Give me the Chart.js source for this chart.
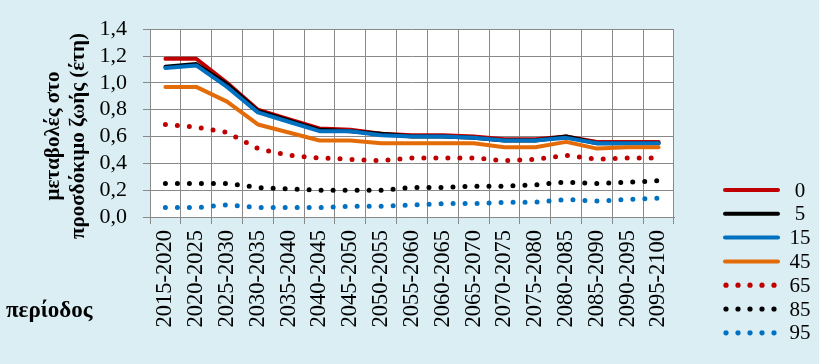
<!DOCTYPE html>
<html>
<head>
<meta charset="utf-8">
<script src="https://cdn.jsdelivr.net/npm/chart.js@4.4.1/dist/chart.umd.min.js"></script>
<style>
  html, body { margin: 0; padding: 0; background: #DAEEF3; }
  #wrap { width: 819px; height: 364px; }
</style>
</head>
<body>
<div id="wrap"><canvas id="c" width="819" height="364"></canvas></div>
<script>
const periods = ['2015-2020', '2020-2025', '2025-2030', '2030-2035', '2035-2040', '2040-2045',
    '2045-2050', '2050-2055', '2055-2060', '2060-2065', '2065-2070', '2070-2075',
    '2075-2080', '2080-2085', '2085-2090', '2090-2095', '2095-2100'];

const age0  = [1.18, 1.18, 1.00, 0.80, 0.73, 0.66, 0.65, 0.62, 0.61, 0.61, 0.60, 0.58, 0.58, 0.60, 0.56, 0.56, 0.56];
const age5  = [1.12, 1.14, 0.99, 0.79, 0.72, 0.65, 0.64, 0.62, 0.60, 0.60, 0.59, 0.57, 0.57, 0.60, 0.55, 0.55, 0.55];
const age15 = [1.11, 1.13, 0.97, 0.78, 0.71, 0.64, 0.64, 0.61, 0.60, 0.60, 0.59, 0.57, 0.57, 0.59, 0.55, 0.55, 0.55];
const age45 = [0.97, 0.97, 0.86, 0.69, 0.63, 0.57, 0.57, 0.55, 0.55, 0.55, 0.55, 0.52, 0.52, 0.56, 0.51, 0.52, 0.52];
const age65 = [0.69, 0.67, 0.63, 0.51, 0.46, 0.44, 0.43, 0.42, 0.44, 0.44, 0.44, 0.42, 0.43, 0.46, 0.43, 0.44, 0.44];
const age85 = [0.25, 0.25, 0.25, 0.22, 0.21, 0.20, 0.20, 0.20, 0.22, 0.22, 0.23, 0.23, 0.24, 0.26, 0.25, 0.26, 0.27];
const age95 = [0.07, 0.07, 0.09, 0.07, 0.07, 0.07, 0.08, 0.08, 0.09, 0.10, 0.10, 0.11, 0.11, 0.13, 0.12, 0.13, 0.14];

const seriesNames = ['0', '5', '15', '45', '65', '85', '95'];
const yTicks = [0, 0.2, 0.4, 0.6, 0.8, 1.0, 1.2, 1.4];

const yTitle = ['μεταβολές στο', 'προσδόκιμο ζωής (έτη)'];
const xTitle = 'περίοδος';

const serif = "'Liberation Serif', 'Times New Roman', serif";
const colors = ['#C00000', '#000000', '#0070C0', '#E36C09', '#C00000', '#000000', '#0070C0'];
const dotted = [false, false, false, false, true, true, true];
const values = [age0, age5, age15, age45, age65, age85, age95];

const datasets = values.map((v, i) => ({
    label: seriesNames[i],
    data: v,
    borderColor: colors[i],
    backgroundColor: colors[i],
    borderWidth: dotted[i] ? 5 : 4,
    borderDash: dotted[i] ? [0, 12] : [],
    borderCapStyle: 'round',
    borderJoinStyle: 'round',
    pointRadius: 0,
    tension: 0,
    fill: false,
    order: values.length - i
}));

// background, titles and legend
const decor = {
    id: 'decor',
    beforeDraw(chart) {
        const ctx = chart.ctx;
        const a = chart.chartArea;
        ctx.save();
        ctx.fillStyle = '#DAEEF3';
        ctx.fillRect(0, 0, chart.width, chart.height);
        ctx.fillStyle = '#FFFFFF';
        ctx.fillRect(a.left, a.top, a.right - a.left, a.bottom - a.top);
        ctx.restore();
    },
    afterDraw(chart) {
        const ctx = chart.ctx;
        ctx.save();
        ctx.fillStyle = '#000';
        ctx.font = 'bold 21px ' + serif;
        ctx.textAlign = 'center';
        ctx.textBaseline = 'middle';
        const xs = [54, 79];
        yTitle.forEach((t, i) => {
            ctx.save();
            ctx.translate(xs[i], 136);
            ctx.rotate(-Math.PI / 2);
            ctx.fillText(t, 0, 0);
            ctx.restore();
        });
        ctx.font = 'bold 23px ' + serif;
        ctx.textAlign = 'left';
        ctx.fillText(xTitle, 6, 311);

        // legend
        ctx.font = '21px ' + serif;
        ctx.textAlign = 'center';
        chart.data.datasets.forEach((ds, i) => {
            const y = 190 + i * 23.8;
            ctx.strokeStyle = ds.borderColor;
            ctx.fillStyle = ds.borderColor;
            if (dotted[i]) {
                for (let k = 0; k < 5; k++) {
                    ctx.beginPath();
                    ctx.arc(726 + k * 12, y, 2.6, 0, Math.PI * 2);
                    ctx.fill();
                }
            } else {
                ctx.lineWidth = 4;
                ctx.lineCap = 'round';
                ctx.beginPath();
                ctx.moveTo(725, y);
                ctx.lineTo(778, y);
                ctx.stroke();
            }
            ctx.fillStyle = '#000';
            ctx.fillText(ds.label, 800, y + 1);
        });
        ctx.restore();
    }
};

new Chart(document.getElementById('c').getContext('2d'), {
    type: 'line',
    data: { labels: periods, datasets: datasets },
    options: {
        responsive: false,
        animation: false,
        devicePixelRatio: 1,
        layout: { padding: { left: 0, right: 145, top: 21, bottom: 0 } },
        plugins: { legend: { display: false }, tooltip: { enabled: false } },
        scales: {
            x: {
                offset: true,
                grid: { offset: true, color: '#898989', lineWidth: 1, tickLength: 7, drawTicks: true },
                border: { color: '#898989' },
                ticks: {
                    minRotation: 90, maxRotation: 90, autoSkip: false,
                    padding: 6, color: '#000',
                    font: { family: serif, size: 22.5 }
                },
                afterFit(scale) { scale.height = 147; }
            },
            y: {
                min: 0, max: 1.4,
                afterBuildTicks(scale) { scale.ticks = yTicks.map(v => ({ value: v })); },
                grid: { color: '#898989', lineWidth: 1, tickLength: 7 },
                border: { color: '#898989' },
                ticks: {
                    autoSkip: false,
                    padding: 16, color: '#000',
                    font: { family: serif, size: 22 },
                    callback: v => v.toFixed(1).replace('.', ',')
                },
                afterFit(scale) { scale.width = 150; }
            }
        }
    },
    plugins: [decor]
});
</script>
</body>
</html>
